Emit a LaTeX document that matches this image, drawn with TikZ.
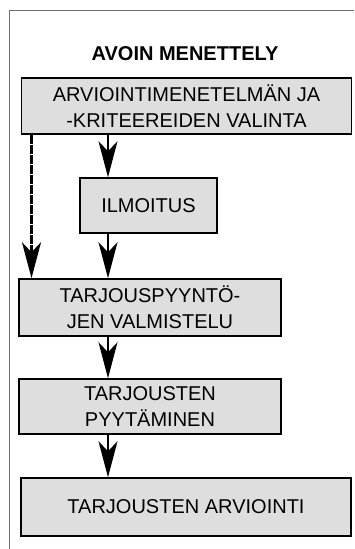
\documentclass[tikz,border=0pt]{standalone}
\usepackage{fontspec}
\setmainfont{Liberation Sans}
\usetikzlibrary{arrows.meta}
\definecolor{boxgray}{HTML}{DEDEDE}
\definecolor{framegray}{HTML}{707070}
\tikzset{
  stepbox/.style={draw, line width=1.5pt, fill=boxgray, align=center, inner sep=0pt,
    font=\fontsize{20}{26}\selectfont},
  flow/.style={line width=1.5pt, -{Stealth[length=36pt, width=19pt, inset=10pt]}}
}
\begin{document}
\begin{tikzpicture}[x=1pt,y=-1pt]
\useasboundingbox (0,0) rectangle (354,549);

% frame
\draw[framegray, line width=1pt] (9.5,549) -- (9.5,10) -- (354,10);

\node[font=\fontsize{20}{24}\selectfont\bfseries] (title) at (185,54) {AVOIN MENETTELY};

\node[stepbox, minimum width=330pt, minimum height=56pt] (valinta) at (186.5,106)
  {ARVIOINTIMENETELMÄN JA\\-KRITEEREIDEN VALINTA};
\node[stepbox, minimum width=137pt, minimum height=55pt] (ilmoitus) at (148.5,205.5) {ILMOITUS};
\node[stepbox, minimum width=262pt, minimum height=57pt] (valmistelu) at (150,307.5)
  {TARJOUSPYYNTÖ-\\JEN VALMISTELU};
\node[stepbox, minimum width=262pt, minimum height=55pt] (pyytaminen) at (150,406.5)
  {TARJOUSTEN\\PYYTÄMINEN};
\node[stepbox, minimum width=330pt, minimum height=58pt] (arviointi) at (186,507)
  {TARJOUSTEN ARVIOINTI};

\coordinate (spine) at (108,0);
\coordinate (side) at (31.5,0);

\draw[flow] (valinta.south -| spine) -- (ilmoitus.north -| spine);
\draw[flow] (ilmoitus.south -| spine) -- (valmistelu.north -| spine);
\draw[flow] (valmistelu.south -| spine) -- (pyytaminen.north -| spine);
\draw[flow] (pyytaminen.south -| spine) -- (arviointi.north -| spine);
\draw[flow, line width=2.6pt, dash pattern=on 9pt off 1pt] (valinta.south -| side) -- (valmistelu.north -| side);

\end{tikzpicture}
\end{document}
